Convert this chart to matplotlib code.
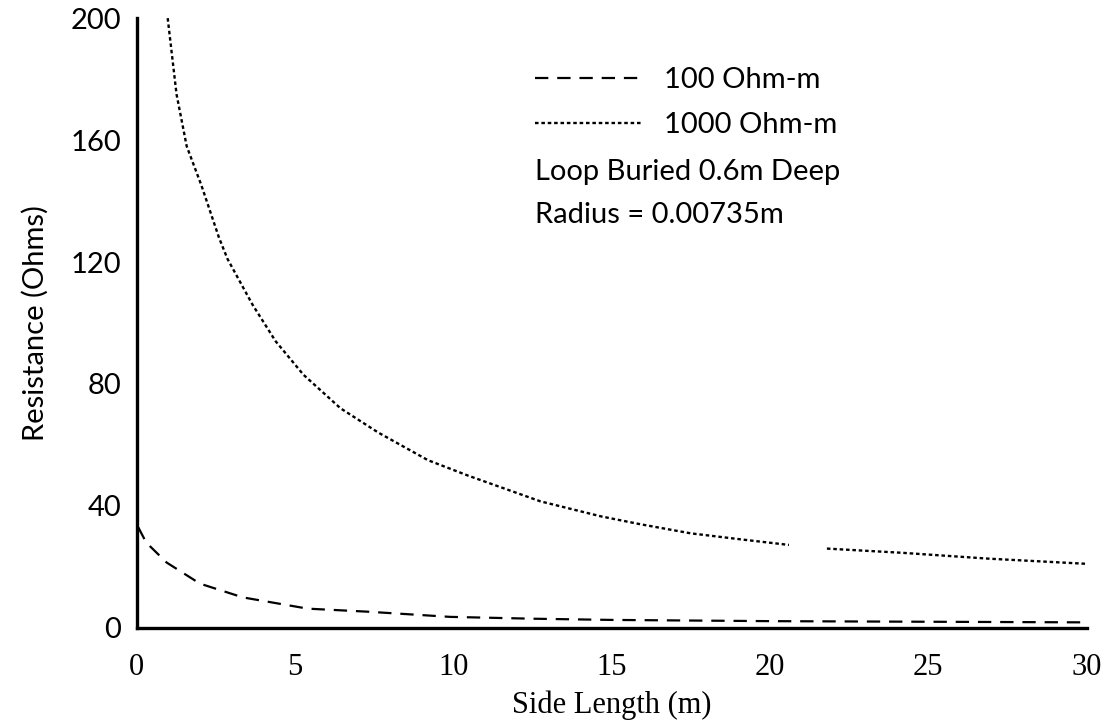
import numpy as np
import matplotlib
matplotlib.use("Agg")
import matplotlib.pyplot as plt

# values
side_100 = [0.05, 0.3, 0.95, 2.0, 3.35, 5.4, 7.3, 9.9, 12.5, 15, 20, 25, 30]
res_100 = [33, 28, 21.4, 14.5, 10, 6.3, 5.3, 3.6, 3.0, 2.6, 2.2, 2.0, 1.8]

side_1000 = [0.98, 1.26, 1.58, 2.05, 2.6, 2.87, 3.66, 4.39, 5.27, 6.44, 7.64,
             9.2, 10.45, 12.75, 14.65, 15.9, 17.5, 19.1, 20.6, 21.0, 21.8,
             24.2, 26.9, 30]
res_1000 = [200, 175, 158, 145, 128, 121, 106, 94, 83, 72, 64,
            55, 50, 41.5, 36.6, 34, 31, 29, 27.2, np.nan, 26,
            24.6, 22.7, 21]

x_ticks = [0, 5, 10, 15, 20, 25, 30]
y_ticks = [0, 40, 80, 120, 160, 200]
notes = ["Loop Buried 0.6m Deep", "Radius = 0.00735m"]

sans = ["Lato", "DejaVu Sans"]
serif = ["Liberation Serif", "DejaVu Serif"]

fig = plt.figure(figsize=(11.11, 7.25), dpi=100)
ax = fig.add_axes([0.123, 0.134, 0.855, 0.841])

ax.plot(side_100, res_100, color="black", lw=1.6, ls=(0, (6, 4)),
        label="100 Ohm-m")
ax.plot(side_1000, res_1000, color="black", lw=1.7, ls=(0, (1.5, 1.2)),
        label="1000 Ohm-m")

ax.set_xlim(0, 30)
ax.set_ylim(0, 200)
ax.set_xticks(x_ticks)
ax.set_yticks(y_ticks)
ax.tick_params(length=0)
ax.tick_params(axis="y", pad=11)
ax.tick_params(axis="x", pad=18)
for lab in ax.get_yticklabels():
    lab.set_fontfamily(sans)
    lab.set_fontsize(21)
for lab in ax.get_xticklabels():
    lab.set_fontfamily(serif)
    lab.set_fontsize(22)

for s in ["top", "right"]:
    ax.spines[s].set_visible(False)
for s in ["left", "bottom"]:
    ax.spines[s].set_linewidth(2.4)

ax.set_xlabel("Side Length (m)", family=serif, fontsize=22, labelpad=6)
ax.set_ylabel("Resistance (Ohms)", family=sans, fontsize=21, labelpad=16)

leg = ax.legend(loc="upper left", bbox_to_anchor=(0.419, 0.92),
                frameon=False, handlelength=3.7, handletextpad=0.75,
                labelspacing=0.65, borderpad=0, borderaxespad=0,
                prop={"family": sans, "size": 21})

# notes under the legend
for i, note in enumerate(notes):
    ax.text(0.419, 0.748 - i * 0.071, note, transform=ax.transAxes,
            family=sans, fontsize=21, va="center", ha="left")

fig.savefig("out.png", dpi=100)
